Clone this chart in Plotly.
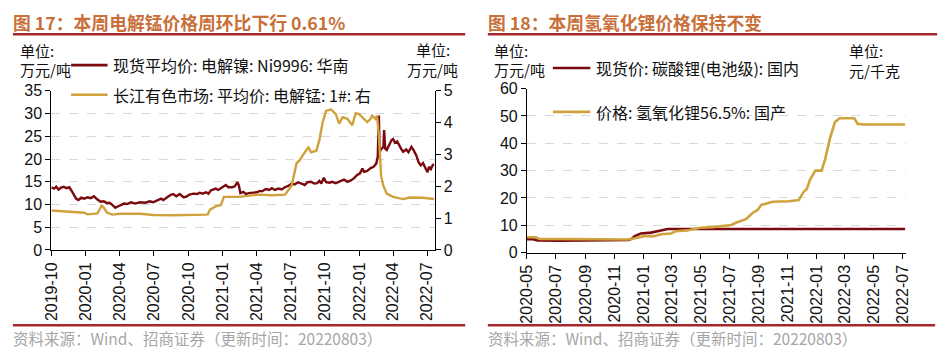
import plotly.graph_objects as go

W, H = 951, 359

# ---------------- data: left chart ----------------
ni_dates = ["2019-10-01","2019-10-08","2019-10-14","2019-10-20","2019-10-27","2019-11-03","2019-11-10","2019-11-18",
            "2019-11-25","2019-12-01","2019-12-06","2019-12-12","2019-12-20","2019-12-28","2020-01-06","2020-01-14",
            "2020-01-23","2020-02-01","2020-02-10","2020-02-18","2020-02-27","2020-03-05","2020-03-12","2020-03-20",
            "2020-03-25","2020-04-03","2020-04-12","2020-04-20","2020-05-01","2020-05-12","2020-05-25","2020-06-08",
            "2020-06-20","2020-06-29","2020-07-10","2020-07-20","2020-07-26","2020-08-05","2020-08-14","2020-08-21",
            "2020-08-30","2020-09-08","2020-09-18","2020-09-25","2020-10-04","2020-10-15","2020-10-25","2020-10-31",
            "2020-11-08","2020-11-17","2020-11-24","2020-11-30","2020-12-07","2020-12-13","2020-12-20","2020-12-27",
            "2021-01-04","2021-01-09","2021-01-16","2021-01-26","2021-02-02","2021-02-09","2021-02-13","2021-02-17",
            "2021-02-25","2021-03-04","2021-03-11","2021-03-20","2021-04-02","2021-04-10","2021-04-16","2021-04-26",
            "2021-05-05","2021-05-12","2021-05-20","2021-05-30","2021-06-07","2021-06-16","2021-06-25","2021-07-04",
            "2021-07-12","2021-07-21","2021-07-28","2021-08-08","2021-08-15","2021-08-25","2021-09-02","2021-09-10",
            "2021-09-16","2021-09-21","2021-09-28","2021-10-04","2021-10-13","2021-10-20","2021-10-30","2021-11-04",
            "2021-11-12","2021-11-21","2021-11-30","2021-12-09","2021-12-18","2021-12-26","2022-01-02","2022-01-09",
            "2022-01-13","2022-01-22","2022-01-31","2022-02-08","2022-02-15","2022-02-19","2022-02-22","2022-02-24",
            "2022-02-28","2022-03-06","2022-03-08","2022-03-11","2022-03-15","2022-03-22","2022-03-28","2022-04-01",
            "2022-04-06","2022-04-12","2022-04-18","2022-04-23","2022-04-28","2022-05-06","2022-05-12","2022-05-20",
            "2022-05-26","2022-06-02","2022-06-08","2022-06-14","2022-06-20","2022-06-25","2022-07-02","2022-07-06",
            "2022-07-11","2022-07-16","2022-07-20"]
ni_values = [13.8,13.5,13.9,13.3,13.7,13.9,13.6,13.8,
             12.9,12.1,11.3,11.0,11.5,11.3,11.6,11.4,
             11.8,11.1,10.6,10.7,10.3,10.4,9.9,9.3,
             9.5,9.8,10.2,10.1,10.5,10.2,10.5,10.4,
             10.7,10.5,11.0,11.3,11.0,11.6,12.1,12.3,
             11.8,12.3,11.6,11.7,12.2,12.4,12.3,12.6,
             12.4,12.7,12.4,13.1,13.3,13.5,13.2,13.6,
             13.9,14.3,13.8,13.8,14.0,14.9,14.2,12.5,
             12.8,12.3,12.5,12.6,12.7,13.0,12.9,13.4,
             13.2,13.6,13.2,13.5,13.3,13.8,14.1,14.6,
             14.4,14.9,14.6,14.3,14.9,15.0,14.6,14.7,
             15.2,14.6,15.9,14.9,14.8,15.0,14.7,14.9,
             15.3,15.5,15.0,15.3,15.8,16.5,16.8,17.9,
             17.2,17.4,18.0,18.3,19.0,20.5,29.6,21.5,
             22.2,22.6,26.4,22.3,22.0,23.1,24.2,24.4,
             23.6,23.9,22.8,22.2,21.6,22.1,21.5,22.7,
             21.9,20.8,19.3,18.6,19.1,18.4,17.1,18.3,
             17.8,18.7,18.8]

mn_dates = ["2019-10-01","2019-11-01","2019-12-01","2019-12-28","2020-01-06","2020-01-23","2020-02-01","2020-02-08",
            "2020-02-12","2020-02-16","2020-02-27","2020-03-12","2020-03-25","2020-04-03","2020-05-25","2020-06-29",
            "2020-08-21","2020-10-04","2020-11-17","2020-11-22","2020-11-28","2020-12-13","2020-12-27","2021-01-04",
            "2021-02-13","2021-04-07","2021-05-12","2021-06-16","2021-06-25","2021-07-04","2021-07-17","2021-07-26",
            "2021-08-08","2021-08-18","2021-08-25","2021-09-08","2021-09-16","2021-09-25","2021-10-04","2021-10-17",
            "2021-10-30","2021-11-08","2021-11-17","2021-11-30","2021-12-13","2021-12-22","2021-12-31","2022-01-13",
            "2022-01-22","2022-01-31","2022-02-04","2022-02-13","2022-02-17","2022-02-22","2022-02-28","2022-03-06",
            "2022-03-15","2022-04-01","2022-04-28","2022-05-15","2022-06-19","2022-07-20"]
mn_values = [1.24,1.22,1.20,1.17,1.12,1.14,1.15,1.30,
             1.39,1.36,1.17,1.11,1.12,1.14,1.14,1.10,
             1.09,1.09,1.11,1.12,1.27,1.37,1.41,1.67,
             1.67,1.74,1.72,1.74,1.90,2.02,2.72,2.83,
             3.07,3.22,3.07,3.12,3.45,4.02,4.37,4.42,
             4.27,3.97,4.17,4.12,3.92,4.30,4.27,4.12,
             4.02,4.12,4.22,4.12,4.22,3.62,2.32,2.02,
             1.77,1.67,1.60,1.65,1.64,1.60]

# ---------------- data: right chart ----------------
li2co3_dates = ["2020-05-01","2020-05-13","2020-05-24","2020-07-08","2020-10-19","2020-11-30","2020-12-07",
                "2020-12-14","2020-12-27","2021-01-17","2021-02-07","2021-02-21","2022-07-06"]
li2co3_values = [4.9,4.9,4.4,4.3,4.5,4.6,5.0,6.0,7.0,7.3,8.1,8.6,8.6]

lioh_dates = ["2020-05-01","2020-05-20","2020-05-27","2020-07-08","2020-10-19","2020-11-30","2020-12-14",
              "2020-12-27","2021-01-03","2021-01-24","2021-02-07","2021-02-28","2021-03-10","2021-04-03",
              "2021-04-17","2021-05-01","2021-05-28","2021-06-25","2021-07-05","2021-07-16","2021-08-05",
              "2021-08-19","2021-08-30","2021-09-06","2021-09-16","2021-09-30","2021-11-03","2021-11-21",
              "2021-11-24","2021-12-04","2021-12-11","2021-12-18","2021-12-29","2022-01-11","2022-01-18",
              "2022-01-29","2022-02-08","2022-02-18","2022-03-21","2022-03-28","2022-04-11","2022-07-06"]
lioh_values = [5.6,5.6,5.0,4.9,4.8,4.8,5.2,
               5.6,6.0,6.0,6.7,7.0,7.8,8.1,
               8.6,9.1,9.3,9.9,10.1,11.0,12.2,
               14.5,15.7,17.4,18.0,18.6,18.8,19.2,
               19.2,22.1,23.3,26.7,30.0,30.0,33.7,
               41.9,47.7,49.2,49.2,47.1,46.9,46.9]

# ---------------- text ----------------
title_left = "图 17：本周电解锰价格周环比下行 0.61%"
title_right = "图 18：本周氢氧化锂价格保持不变"
source_text = "资料来源：Wind、招商证券（更新时间：20220803）"
name_ni = "现货平均价: 电解镍: Ni9996: 华南"
name_mn = "长江有色市场: 平均价: 电解锰: 1#: 右"
name_li2co3 = "现货价: 碳酸锂(电池级): 国内"
name_lioh = "价格: 氢氧化锂56.5%: 国产"

DARK = "#7A0A0E"
GOLD = "#CFA23E"
TITLE_C = "#C9703A"
BAR_C = "#A3282B"
CJK = "Noto Sans CJK SC"
NUM = "Liberation Sans, Arial"

def px(x):
    return x / W

def py(y):
    return 1 - y / H

fig = go.Figure()
fig.add_trace(go.Scatter(x=ni_dates, y=ni_values, name=name_ni, mode="lines",
                         line=dict(color=DARK, width=2.4), xaxis="x", yaxis="y"))
fig.add_trace(go.Scatter(x=mn_dates, y=mn_values, name=name_mn, mode="lines",
                         line=dict(color=GOLD, width=2.4), xaxis="x", yaxis="y2"))
fig.add_trace(go.Scatter(x=li2co3_dates, y=li2co3_values, name=name_li2co3, mode="lines",
                         line=dict(color=DARK, width=2.6), xaxis="x3", yaxis="y3"))
fig.add_trace(go.Scatter(x=lioh_dates, y=lioh_values, name=name_lioh, mode="lines",
                         line=dict(color=GOLD, width=2.6), xaxis="x3", yaxis="y3"))

tickfont = dict(family=NUM, size=16, color="#111")
grid = dict(showgrid=True, gridcolor="#D9D9D9", griddash="dash", gridwidth=1)
axcommon = dict(showline=True, linecolor="#000", linewidth=1, ticks="outside", ticklen=5,
                tickcolor="#000", tickfont=tickfont, zeroline=False)

fig.update_layout(
    width=W, height=H, autosize=False,
    margin=dict(l=0, r=0, t=0, b=0),
    paper_bgcolor="white", plot_bgcolor="white",
    showlegend=False,
    xaxis=dict(domain=[px(43), px(432)], type="date", range=["2019-10-01", "2022-07-21"],
               tick0="2019-10-01", dtick="M3", tickformat="%Y-%m", tickangle=-90,
               anchor="y", showgrid=False, **axcommon),
    yaxis=dict(domain=[py(254), py(87)], range=[0, 35], dtick=5, anchor="x", **grid, **axcommon),
    yaxis2=dict(overlaying="y", side="right", anchor="x", range=[0, 5], dtick=1,
                showgrid=False, **axcommon),
    xaxis3=dict(domain=[px(525.7), px(910)], type="date", range=["2020-05-01", "2022-07-07"],
                tick0="2020-05-01", dtick="M2", tickformat="%Y-%m", tickangle=-90,
                anchor="y3", showgrid=False, **axcommon),
    yaxis3=dict(domain=[py(256.7), py(84.7)], range=[0, 60], dtick=10, anchor="x3", **grid, **axcommon),
)

shapes = []
# title bars and footer lines
for x0, x1, y in [(4, 463, 27.5), (486, 942, 27.5), (4, 463, 333), (486, 940, 333)]:
    shapes.append(dict(type="line", xref="paper", yref="paper", x0=px(x0), x1=px(x1), y0=py(y), y1=py(y),
                       line=dict(color=BAR_C, width=2.5)))
# legend samples
for x0, x1, y, c in [(63, 100, 60, DARK), (63, 100, 91, GOLD), (552, 590, 63, DARK), (552, 590, 109, GOLD)]:
    shapes.append(dict(type="line", xref="paper", yref="paper", x0=px(x0), x1=px(x1), y0=py(y), y1=py(y),
                       line=dict(color=c, width=2.6)))
fig.update_layout(shapes=shapes)

ann = []
def text(x, y, s, size=16, color="#111", bold=False, family=CJK, xanchor="left"):
    ann.append(dict(xref="paper", yref="paper", x=px(x), y=py(y), text=("<b>%s</b>" % s) if bold else s,
                    showarrow=False, xanchor=xanchor, yanchor="middle", borderpad=0,
                    font=dict(family=family, size=size, color=color)))

text(3, 15, title_left, size=17.8, color=TITLE_C, bold=True)
text(485, 15, title_right, size=17.8, color=TITLE_C, bold=True)
text(3, 346, source_text, size=15.5, color="#A6A6A6")
text(485, 346, source_text, size=15.5, color="#A6A6A6")

# units
text(10, 45, "单位:", size=15)
text(10, 65, "万元/吨", size=15)
text(430, 44, "单位:", size=15, xanchor="center")
text(430, 65, "万元/吨", size=15, xanchor="center")
text(491, 45, "单位:", size=15)
text(491, 65, "万元/吨", size=15)
text(852, 45, "单位:", size=15)
text(852, 66, "元/千克", size=15)

# legend labels
text(105, 60, name_ni)
text(105, 91, name_mn)
text(595, 63, name_li2co3)
text(595, 109, name_lioh)

fig.update_layout(annotations=ann)
fig.write_html("out.html", config={"displayModeBar": False},
               post_script="document.body.style.margin='0';document.body.style.padding='0';")
